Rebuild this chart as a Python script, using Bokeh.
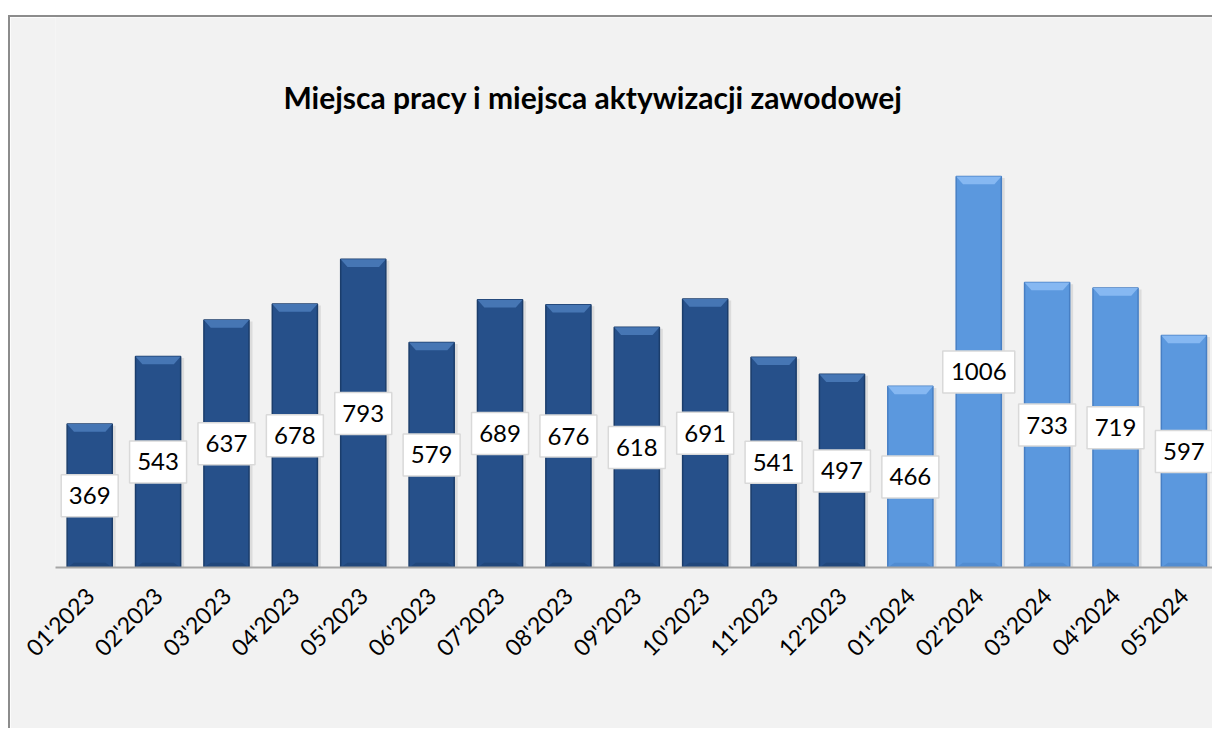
import numpy as np
from bokeh.plotting import figure
from bokeh.models import ColumnDataSource, Label, FixedTicker, Range1d, Spacer
from bokeh.layouts import column, row
from bokeh.embed import file_html
from bokeh.resources import INLINE
from bokeh.core.properties import value

# ---- data ----
months = ["01'2023", "02'2023", "03'2023", "04'2023", "05'2023", "06'2023",
          "07'2023", "08'2023", "09'2023", "10'2023", "11'2023", "12'2023",
          "01'2024", "02'2024", "03'2024", "04'2024", "05'2024"]
values = [369, 543, 637, 678, 793, 579, 689, 676, 618, 691, 541, 497,
          466, 1006, 733, 719, 597]
years = [2023] * 12 + [2024] * 5
title_text = "Miejsca pracy i miejsca aktywizacji zawodowej"

# ---- styling ----
BG = "#f2f2f2"
DARK = "#26508a"
DARK_TOP = "#4676b4"
DARK_EDGE = "#1b3d6b"
LIGHT = "#5b98de"
LIGHT_TOP = "#86b8f2"
LIGHT_EDGE = "#477fc4"
FONT = "Lato"

n = len(values)
xs = list(range(n))
bar_w = 0.66
band = 20.0      # bevel height in data units
inset = 0.10     # bevel inset in x units

fill = [DARK if y == 2023 else LIGHT for y in years]
top_c = [DARK_TOP if y == 2023 else LIGHT_TOP for y in years]
edge_c = [DARK_EDGE if y == 2023 else LIGHT_EDGE for y in years]

src = ColumnDataSource(dict(x=xs, top=values, fill=fill, edge=edge_c,
                            mid=[v / 2 for v in values],
                            txt=[str(v) for v in values],
                            boxw=[15 * len(str(v)) + 12 for v in values]))

bev_xs = [[x - bar_w / 2, x + bar_w / 2, x + bar_w / 2 - inset, x - bar_w / 2 + inset]
          for x in xs]
bev_ys = [[v, v, v - band, v - band] for v in values]
bot_ys = [[0, 0, band * 0.6, band * 0.6] for v in values]
bev_src = ColumnDataSource(dict(xs=bev_xs, ys=bev_ys, c=top_c))
bot_src = ColumnDataSource(dict(xs=bev_xs, ys=bot_ys, c=edge_c))

p = figure(width=1202, height=711, output_backend="svg", toolbar_location=None,
           x_range=Range1d(-0.5, 16.418), y_range=Range1d(0, 1415),
           min_border_left=45, min_border_right=0, min_border_top=0,
           min_border_bottom=161)
p.background_fill_color = BG
p.border_fill_color = BG
p.outline_line_color = None
p.grid.visible = False
p.yaxis.visible = False

# shadow
p.vbar(x=[x + 0.05 for x in xs], top=[v - 4 for v in values], bottom=-4, width=bar_w,
       fill_color="#d6d6d6", line_color=None, fill_alpha=0.8)
# bars
p.vbar(x="x", top="top", bottom=0, width=bar_w, source=src,
       fill_color="fill", line_color="edge", line_width=1.5)
p.patches("xs", "ys", source=bev_src, fill_color="c", line_color=None)
p.patches("xs", "ys", source=bot_src, fill_color="c", line_color=None, fill_alpha=0.5)

# data labels
p.rect(x="x", y="mid", width="boxw", height=42, width_units="screen",
       height_units="screen", source=src, fill_color="white",
       line_color="#d9d9d9", line_width=1.5)
p.text(x="x", y="mid", text="txt", source=src, text_align="center",
       text_baseline="middle", text_font=value(FONT), text_font_size="24px",
       text_color="black")

# title
p.add_layout(Label(x=7.36, y=1210, text=title_text, text_align="center",
                   text_baseline="alphabetic", text_font=FONT,
                   text_font_size="30px", text_font_style="bold",
                   text_color="black"))

# x axis
p.xaxis.ticker = FixedTicker(ticks=xs)
p.xaxis.major_label_overrides = {i: m for i, m in zip(xs, months)}
p.xaxis.major_label_orientation = np.pi / 4
p.xaxis.major_label_text_font = FONT
p.xaxis.major_label_text_font_size = "23px"
p.xaxis.major_label_text_color = "black"
p.xaxis.major_label_standoff = 18
p.xaxis.axis_line_color = "#a6a6a6"
p.xaxis.axis_line_width = 2
p.xaxis.major_tick_line_color = None
p.xaxis.minor_tick_line_color = None

GRAY = {"background-color": "#8c8c8c"}
layout = column(
    Spacer(width=1212, height=15),
    row(Spacer(width=8, height=2), Spacer(width=1204, height=2, styles=GRAY)),
    row(Spacer(width=8, height=711), Spacer(width=2, height=711, styles=GRAY), p),
)

open("out.html", "w").write(file_html(layout, INLINE))
